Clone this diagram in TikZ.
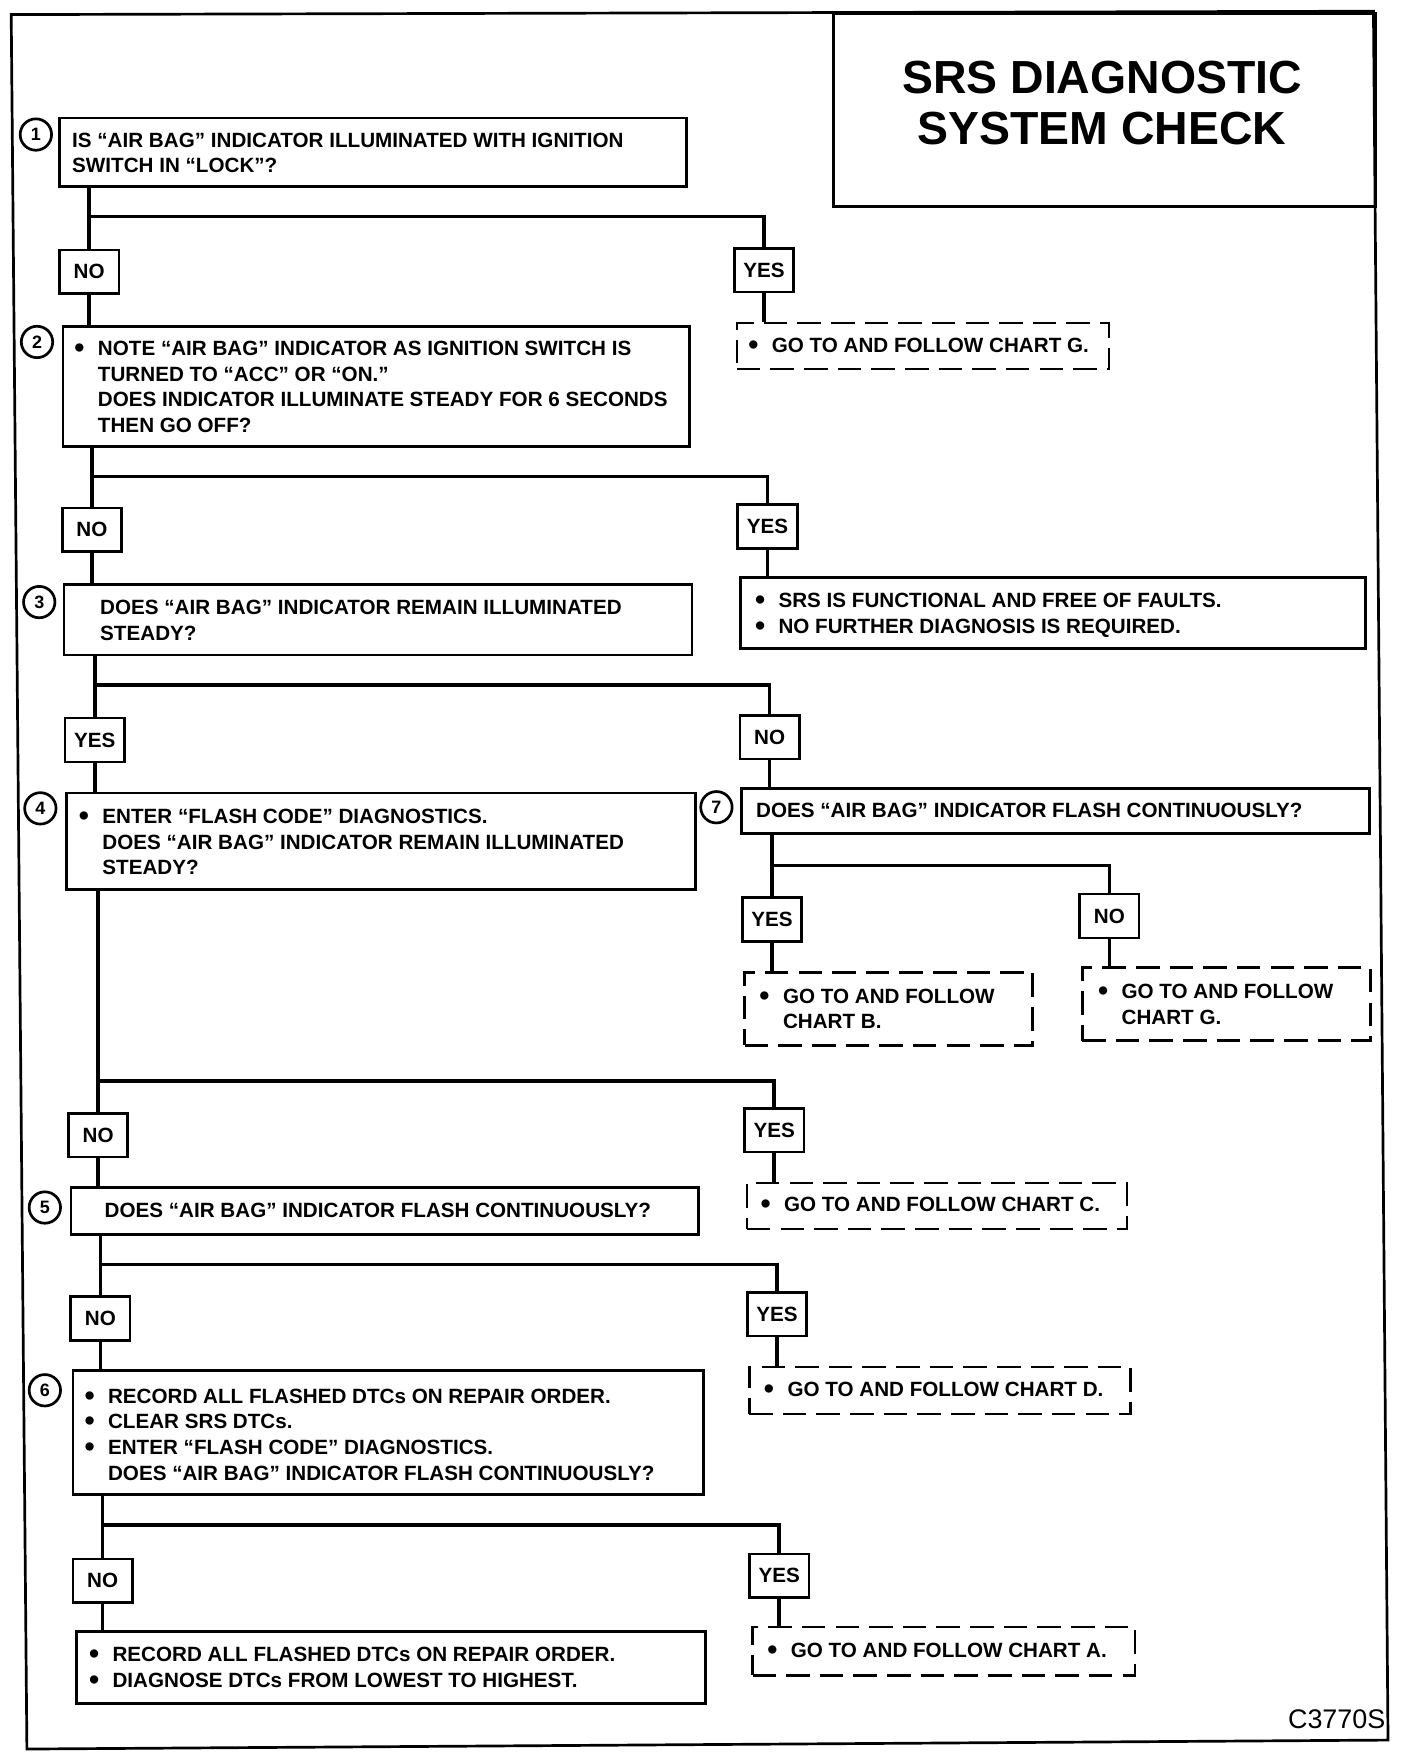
\documentclass[tikz,border=0pt]{standalone}
\usepackage{fontspec}
\usepackage{graphicx}
\setmainfont{Liberation Sans}
\usetikzlibrary{calc}
\newcommand\bul{\makebox[10.5pt][l]{\raisebox{-0.9pt}{\scalebox{1.4}{•}}}}
\newcommand\nob{\hspace*{10.5pt}}
\tikzset{
  every node/.style={font=\fontsize{9.2}{11.4}\selectfont\bfseries},
  qbox/.style={draw, line width=1.2pt, anchor=north west, inner sep=0pt},
  dbox/.style={qbox, dash pattern=on 10.5pt off 4.5pt},
  txt/.style={anchor=west, align=left, inner sep=0pt},
  lbl/.style={draw, line width=1.2pt, minimum width=26.5pt, minimum height=19.5pt, inner sep=0pt},
  num/.style={draw, circle, line width=1.2pt, minimum size=14pt, inner sep=0pt, font=\fontsize{8}{8}\selectfont\bfseries},
  conn/.style={line width=1.6pt},
}
\begin{document}
\begin{tikzpicture}[x=0.5pt,y=-0.5pt]
\useasboundingbox (0,0) rectangle (1256,1568);
% frame and title
\draw[line width=1.2pt] (10,13) -- (1225,10) -- (1238,1552) -- (24,1560) -- cycle;
\node[qbox, minimum width=242pt, minimum height=86pt] (tbox) at (742,11) {};
\node[font=\fontsize{20.7}{22.5}\selectfont\bfseries, align=center] (title) at (983,92) {SRS DIAGNOSTIC\\SYSTEM CHECK};
\node[font=\fontsize{12}{12}\selectfont, anchor=east, inner sep=0pt] (code) at (1236,1533) {C3770S};

% number circles
\node[num] (c1) at (32,120) {1};
\node[num] (c2) at (33,305) {2};
\node[num] (c3) at (35,537) {3};
\node[num] (c4) at (36,721) {4};
\node[num] (c7) at (639,720) {7};
\node[num] (c5) at (40,1077) {5};
\node[num] (c6) at (40,1240) {6};

% question / action boxes
\node[qbox, minimum width=279.5pt, minimum height=30.5pt] (b1) at (52,104) {};
\node[txt] (t1) at (64,136.5) {IS “AIR BAG” INDICATOR ILLUMINATED WITH IGNITION\\SWITCH IN “LOCK”?};

\node[qbox, minimum width=279.5pt, minimum height=53.5pt] (b2) at (55,290) {};
\node[txt] (t2) at (66,345) {\bul NOTE “AIR BAG” INDICATOR AS IGNITION SWITCH IS\\\nob TURNED TO “ACC” OR “ON.”\\\nob DOES INDICATOR ILLUMINATE STEADY FOR 6 SECONDS\\\nob THEN GO OFF?};

\node[qbox, minimum width=280pt, minimum height=31.5pt] (b3) at (56,520) {};
\node[txt] (t3) at (89,553.5) {DOES “AIR BAG” INDICATOR REMAIN ILLUMINATED\\STEADY?};

\node[qbox, minimum width=279pt, minimum height=31.5pt] (srs) at (659,514) {};
\node[txt] (tsrs) at (673,549) {\bul SRS IS FUNCTIONAL AND FREE OF FAULTS.\\\bul NO FURTHER DIAGNOSIS IS REQUIRED.};

\node[qbox, minimum width=280pt, minimum height=20pt] (b7) at (660,702) {};
\node[txt] (t7) at (674,723) {DOES “AIR BAG” INDICATOR FLASH CONTINUOUSLY?};

\node[qbox, minimum width=280.5pt, minimum height=43pt] (b4) at (58,706) {};
\node[txt] (t4) at (70,751) {\bul ENTER “FLASH CODE” DIAGNOSTICS.\\\nob DOES “AIR BAG” INDICATOR REMAIN ILLUMINATED\\\nob STEADY?};

\node[qbox, minimum width=280pt, minimum height=21pt] (b5) at (62,1058) {};
\node[txt] (t5) at (93,1080) {DOES “AIR BAG” INDICATOR FLASH CONTINUOUSLY?};

\node[qbox, minimum width=281pt, minimum height=55.5pt] (b6) at (64,1221) {};
\node[txt] (t6) at (75,1279.5) {\bul RECORD ALL FLASHED DTCs ON REPAIR ORDER.\\\bul CLEAR SRS DTCs.\\\bul ENTER “FLASH CODE” DIAGNOSTICS.\\\nob DOES “AIR BAG” INDICATOR FLASH CONTINUOUSLY?};

\node[qbox, minimum width=280.5pt, minimum height=32pt] (b8) at (67,1454) {};
\node[txt] (t8) at (79,1488) {\bul RECORD ALL FLASHED DTCs ON REPAIR ORDER.\\\bul DIAGNOSE DTCs FROM LOWEST TO HIGHEST.};

% dashed chart boxes
\node[dbox, minimum width=166pt, minimum height=20.5pt] (g1) at (656,287) {};
\node[txt] (tg1) at (667,309) {\bul GO TO AND FOLLOW CHART G.};
\node[dbox, minimum width=128.5pt, minimum height=32.5pt] (chB) at (663,866) {};
\node[txt] (tB) at (677,900) {\bul GO TO AND FOLLOW\\\nob CHART B.};
\node[dbox, minimum width=128.5pt, minimum height=32.5pt] (g2) at (964,862) {};
\node[txt] (tg2) at (979,896) {\bul GO TO AND FOLLOW\\\nob CHART G.};
\node[dbox, minimum width=169.5pt, minimum height=20.5pt] (chC) at (665,1054) {};
\node[txt] (tC) at (678,1075) {\bul GO TO AND FOLLOW CHART C.};
\node[dbox, minimum width=170pt, minimum height=21pt] (chD) at (667,1218) {};
\node[txt] (tD) at (681,1240) {\bul GO TO AND FOLLOW CHART D.};
\node[dbox, minimum width=170.5pt, minimum height=21.5pt] (chA) at (670,1450) {};
\node[txt] (tA) at (684,1473) {\bul GO TO AND FOLLOW CHART A.};

% YES / NO labels
\node[lbl] (no1) at (79.5,242.5) {NO};
\node[lbl] (yes1) at (681.5,241) {YES};
\node[lbl] (no2) at (82,472.5) {NO};
\node[lbl] (yes2) at (684.5,469.5) {YES};
\node[lbl] (yes3) at (84.5,660) {YES};
\node[lbl] (no3) at (686.5,657.5) {NO};
\node[lbl] (yes7) at (688.5,820) {YES};
\node[lbl] (no7) at (989.5,817) {NO};
\node[lbl] (no4) at (87.5,1012.5) {NO};
\node[lbl] (yes4) at (690.5,1008) {YES};
\node[lbl] (no5) at (89.5,1176) {NO};
\node[lbl] (yes5) at (693,1172) {YES};
\node[lbl] (no6) at (91.5,1410) {NO};
\node[lbl] (yes6) at (695,1405.5) {YES};

% junction heights
\coordinate (j1) at (0,193);
\coordinate (j2) at (0,425);
\coordinate (j3) at (0,611);
\coordinate (j7) at (0,772);
\coordinate (j4) at (0,964);
\coordinate (j5) at (0,1128);
\coordinate (j6) at (0,1360);

% connectors
\draw[conn] (b1.south -| no1.north) -- (no1.north);
\draw[conn] (no1.north |- j1) -| (yes1.north);
\draw[conn] (no1.south) -- (no1.south |- b2.north);
\draw[conn] (yes1.south) -- (yes1.south |- g1.north);

\draw[conn] (b2.south -| no2.north) -- (no2.north);
\draw[conn] (no2.north |- j2) -| (yes2.north);
\draw[conn] (no2.south) -- (no2.south |- b3.north);
\draw[conn] (yes2.south) -- (yes2.south |- srs.north);

\draw[conn] (b3.south -| yes3.north) -- (yes3.north);
\draw[conn] (yes3.north |- j3) -| (no3.north);
\draw[conn] (yes3.south) -- (yes3.south |- b4.north);
\draw[conn] (no3.south) -- (no3.south |- b7.north);

\draw[conn] (b7.south -| yes7.north) -- (yes7.north);
\draw[conn] (yes7.north |- j7) -| (no7.north);
\draw[conn] (yes7.south) -- (yes7.south |- chB.north);
\draw[conn] (no7.south) -- (no7.south |- g2.north);

\draw[conn] (b4.south -| no4.north) -- (no4.north);
\draw[conn] (no4.north |- j4) -| (yes4.north);
\draw[conn] (no4.south) -- (no4.south |- b5.north);
\draw[conn] (yes4.south) -- (yes4.south |- chC.north);

\draw[conn] (b5.south -| no5.north) -- (no5.north);
\draw[conn] (no5.north |- j5) -| (yes5.north);
\draw[conn] (no5.south) -- (no5.south |- b6.north);
\draw[conn] (yes5.south) -- (yes5.south |- chD.north);

\draw[conn] (b6.south -| no6.north) -- (no6.north);
\draw[conn] (no6.north |- j6) -| (yes6.north);
\draw[conn] (no6.south) -- (no6.south |- b8.north);
\draw[conn] (yes6.south) -- (yes6.south |- chA.north);
\end{tikzpicture}
\end{document}
